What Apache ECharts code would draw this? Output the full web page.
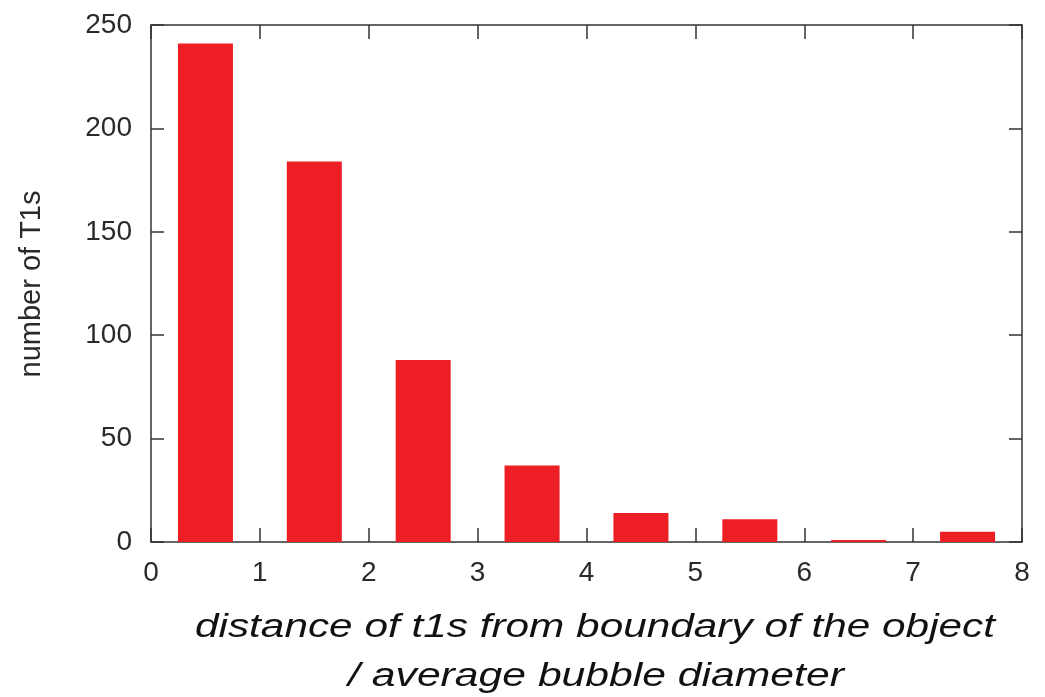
<!DOCTYPE html>
<html><head><meta charset="utf-8">
<script src="https://cdn.jsdelivr.net/npm/echarts@6/dist/echarts.min.js"></script>
<style>html,body{margin:0;padding:0;background:#fff}#c{width:1045px;height:697px}</style>
</head><body><div id="c"></div>
<script>
const binCenters = [0.5, 1.5, 2.5, 3.5, 4.5, 5.5, 6.5, 7.5];
const counts = [241, 184, 88, 37, 14, 11, 1, 5];
const xTicks = [0, 1, 2, 3, 4, 5, 6, 7, 8];
const yTicks = [0, 50, 100, 150, 200, 250];
const yTitle = 'number of T1s';
const xTitle1 = 'distance of t1s from boundary of the object';
const xTitle2 = '/ average bubble diameter';

const FONT = '"Liberation Sans", Arial, Helvetica, sans-serif';
const axisCol = '#333333';
const chart = echarts.init(document.getElementById('c'), null, {renderer: 'canvas'});
const data = binCenters.map((x, i) => [x, counts[i]]);
const xAxisBase = {
  type: 'value', min: xTicks[0], max: xTicks[xTicks.length - 1], interval: 1,
  splitLine: {show: false},
  axisLine: {show: true, onZero: false, lineStyle: {color: axisCol, width: 1.5}},
  axisTick: {show: true, inside: true, length: 14, lineStyle: {color: axisCol, width: 1.5}}
};
const yAxisBase = {
  type: 'value', min: yTicks[0], max: yTicks[yTicks.length - 1], interval: 50,
  splitLine: {show: false},
  axisLine: {show: true, onZero: false, lineStyle: {color: axisCol, width: 1.5}},
  axisTick: {show: true, inside: true, length: 13, lineStyle: {color: axisCol, width: 1.5}}
};
chart.setOption({
  animation: false,
  backgroundColor: '#fff',
  grid: {left: 151, right: 23, top: 25, bottom: 155},
  xAxis: [
    Object.assign({}, xAxisBase, {position: 'bottom',
      axisLabel: {show: true, color: '#2a2a2a', fontFamily: FONT, fontSize: 28, margin: 17}}),
    Object.assign({}, xAxisBase, {position: 'top', axisLabel: {show: false}})
  ],
  yAxis: [
    Object.assign({}, yAxisBase, {position: 'left',
      axisLabel: {show: true, color: '#2a2a2a', fontFamily: FONT, fontSize: 28, margin: 19}}),
    Object.assign({}, yAxisBase, {position: 'right', axisLabel: {show: false}})
  ],
  series: [{
    type: 'bar', xAxisIndex: 0, yAxisIndex: 0,
    data: data, barWidth: 55,
    itemStyle: {color: '#ed1f24'}
  }],
  graphic: [
    {type: 'text', x: 32, y: 284, rotation: Math.PI / 2,
      style: {text: yTitle, fontFamily: FONT, fontSize: 29, fill: '#2a2a2a',
        textAlign: 'center', textVerticalAlign: 'middle'}},
    {type: 'text', x: 595, y: 628, scaleX: 1.245,
      style: {text: xTitle1, fontFamily: FONT, fontSize: 34, fontStyle: 'italic', fill: '#111',
        textAlign: 'center', textVerticalAlign: 'middle'}},
    {type: 'text', x: 596, y: 677, scaleX: 1.255,
      style: {text: xTitle2, fontFamily: FONT, fontSize: 34, fontStyle: 'italic', fill: '#111',
        textAlign: 'center', textVerticalAlign: 'middle'}}
  ]
});
</script></body></html>
